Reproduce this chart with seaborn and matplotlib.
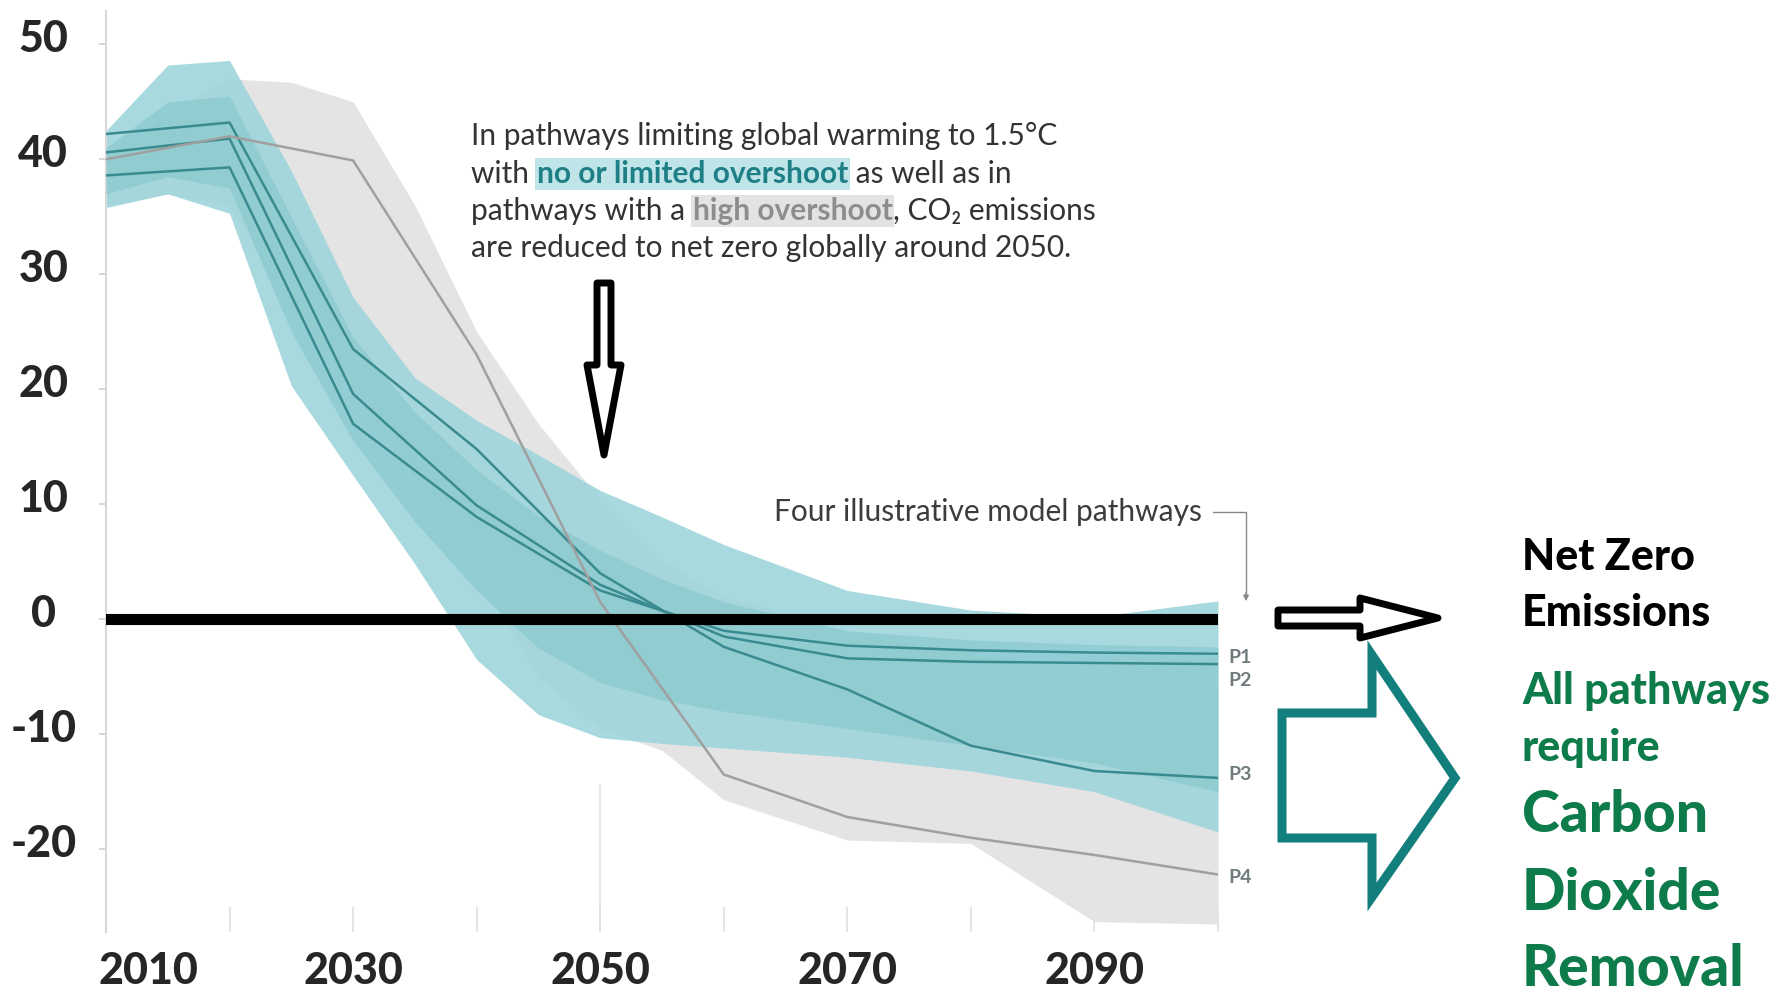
import numpy as np
import pandas as pd
import seaborn as sns
import matplotlib.pyplot as plt
from matplotlib.patches import Polygon
from matplotlib.transforms import ScaledTranslation

# ---- data (GtCO2/yr) ----
band_years = [2010, 2015, 2020, 2025, 2030, 2035, 2040, 2045, 2050, 2055, 2060, 2070, 2080, 2090, 2100]
teal_hi = [42.5, 48.2, 48.6, 39.0, 28.0, 21.0, 17.3, 14.3, 11.2, 8.9, 6.5, 2.5, 0.8, 0.2, 1.6]
teal_lo = [35.8, 37.0, 35.3, 20.3, 12.5, 4.8, -3.5, -8.3, -10.3, -10.8, -11.2, -12.0, -13.2, -15.0, -18.5]
teal_mid_hi = [41.0, 45.0, 45.5, 35.0, 24.5, 18.0, 13.0, 9.0, 6.0, 3.5, 1.5, -1.0, -1.8, -2.2, -2.4]
teal_mid_lo = [37.0, 38.5, 37.5, 25.0, 15.5, 8.5, 2.5, -2.5, -5.5, -7.0, -8.0, -9.5, -11.0, -12.5, -15.0]
grey_hi = [40.0, 44.0, 47.0, 46.7, 45.0, 36.0, 25.0, 17.0, 10.4, 5.0, 2.0, -1.0, -3.0, -5.0, -6.0]
grey_lo = [36.0, 37.0, 36.0, 27.0, 20.0, 12.0, 4.0, -5.0, -9.5, -11.4, -15.7, -19.2, -19.5, -26.3, -26.5]

path_years = [2010, 2020, 2030, 2040, 2050, 2060, 2070, 2080, 2090, 2100]
p1 = [38.6, 39.3, 17.0, 8.9, 2.5, -1.0, -2.3, -2.7, -2.9, -3.0]
p2 = [40.6, 41.8, 19.6, 9.9, 3.0, -1.5, -3.4, -3.7, -3.8, -3.9]
p3 = [42.2, 43.2, 23.5, 14.8, 4.0, -2.4, -6.1, -11.0, -13.2, -13.8]
p4 = [40.0, 42.0, 39.9, 23.0, 1.5, -13.5, -17.2, -19.0, -20.5, -22.2]
path_names = ["P1", "P2", "P3", "P4"]
path_label_y = [-3.3, -5.3, -13.5, -22.5]

ytick_vals = [50, 40, 30, 20, 10, 0, -10, -20]
xtick_years = [2010, 2020, 2030, 2040, 2050, 2060, 2070, 2080, 2090, 2100]
xtick_labels = ["2010", "", "2030", "", "2050", "", "2070", "", "2090", ""]
net_zero_year = 2050

# ---- figure ----
sns.set_theme(style="white")
plt.rcParams["font.family"] = ["Lato", "DejaVu Sans"]

W, H = 1781, 993
fig = plt.figure(figsize=(W / 100, H / 100), dpi=100)
ax = fig.add_axes([106 / W, 1 - 932 / H, (1218 - 106) / W, (932 - 11) / H])

TEAL = "#9fd5db"
TEAL_IN = "#79c0c7"
ax.fill_between(band_years, grey_lo, grey_hi, color="#e4e4e4", lw=0, zorder=1)
ax.fill_between(band_years, teal_lo, teal_hi, color=TEAL, alpha=0.9, lw=0, zorder=2)
ax.fill_between(band_years, teal_mid_lo, teal_mid_hi, color=TEAL_IN, alpha=0.45, lw=0, zorder=3)

df = pd.DataFrame({
    "year": path_years * 4,
    "value": p1 + p2 + p3 + p4,
    "pathway": sum([[n] * len(path_years) for n in path_names], []),
})
sns.lineplot(data=df, x="year", y="value", hue="pathway",
             palette={"P1": "#3a8b90", "P2": "#3a8b90", "P3": "#3a8b90", "P4": "#a0a0a0"},
             legend=False, linewidth=1.8, ax=ax, zorder=4)

ax.vlines(net_zero_year, -30, -14.3, color="#e2e2e2", lw=1.2, zorder=0)
ax.hlines(0, path_years[0], path_years[-1], color="black", lw=8, capstyle="round", zorder=6)

ax.set_xlim(path_years[0], path_years[-1])
ax.set_ylim(-27.2, 52.9)

for s in ["top", "right", "bottom"]:
    ax.spines[s].set_visible(False)
ax.spines["left"].set_color("#d8d8d8")
ax.spines["left"].set_linewidth(1.5)

TICK_FS = 31
ax.set_yticks(ytick_vals)
ax.set_yticklabels([str(v) for v in ytick_vals], fontsize=TICK_FS, fontweight="black")
ax.tick_params(axis="y", left=True, length=5, color="#d0d0d0", pad=38)
for lab in ax.get_yticklabels():
    lab.set_ha("center")
    lab.set_transform(lab.get_transform() + ScaledTranslation(-0.03, 0.09, fig.dpi_scale_trans))

ax.set_xticks(xtick_years)
ax.set_xticklabels(xtick_labels, fontsize=TICK_FS, fontweight="black")
ax.tick_params(axis="x", bottom=True, direction="in", length=18, width=1.2, color="#e0e0e0", pad=14)
ax.get_xticklabels()[0].set_ha("left")
ax.get_xticklabels()[0].set_transform(ax.get_xticklabels()[0].get_transform()
                                      + ScaledTranslation(-0.07, 0, fig.dpi_scale_trans))
ax.set_xlabel("")
ax.set_ylabel("")

for name, ly in zip(path_names, path_label_y):
    ax.text(path_years[-1] + 0.8, ly, name, fontsize=14, fontweight="bold",
            color="#6f7b7c", ha="left", va="center", clip_on=False, zorder=7)

# ---- overlay in pixel coordinates ----
ov = fig.add_axes([0, 0, 1, 1], zorder=10)
ov.set_xlim(0, W)
ov.set_ylim(H, 0)
ov.axis("off")

DARK = "#333333"
FS = 21.5


def rich_line(x, y, parts):
    prev = None
    for txt, color, weight, bg in parts:
        kw = dict(fontsize=FS, color=color, fontweight=weight, ha="left")
        if bg:
            kw["bbox"] = dict(boxstyle="square,pad=0.06", fc=bg, ec="none")
        if prev is None:
            prev = ov.text(x, y, txt, va="center", **kw)
        else:
            prev = ov.annotate(txt, xy=(1, 0), xycoords=prev, va="bottom", **kw)


rich_line(471, 136, [("In pathways limiting global warming to 1.5°C", DARK, "normal", None)])
rich_line(471, 174, [("with ", DARK, "normal", None),
                     ("no or limited overshoot", "#1f7f86", "bold", "#bfe5e9"),
                     (" as well as in", DARK, "normal", None)])
rich_line(471, 211, [("pathways with a ", DARK, "normal", None),
                     ("high overshoot", "#8d8d8d", "bold", "#e3e3e3"),
                     (", CO₂ emissions", DARK, "normal", None)])
rich_line(471, 248, [("are reduced to net zero globally around 2050.", DARK, "normal", None)])

ov.text(1202, 512, "Four illustrative model pathways", fontsize=FS, color="#3c3c3c",
        ha="right", va="center")
ov.plot([1213, 1246, 1246], [512, 512, 596], color="#888888", lw=1)
ov.annotate("", xy=(1246, 604), xytext=(1246, 590),
            arrowprops=dict(arrowstyle="-|>", color="#888888", lw=1, mutation_scale=8))

# hollow black arrows
down = [(597, 283), (611, 283), (611, 365), (621, 365), (604, 455), (587, 365), (597, 365)]
ov.add_patch(Polygon(down, closed=True, fc="white", ec="black", lw=5, joinstyle="round"))
right = [(1278, 610), (1360, 610), (1360, 598), (1438, 618), (1360, 638), (1360, 626), (1278, 626)]
ov.add_patch(Polygon(right, closed=True, fc="white", ec="black", lw=5, joinstyle="round"))

# teal block arrow
teal_arrow = [(1282, 713), (1372, 713), (1372, 655), (1455, 778), (1372, 897), (1372, 838), (1282, 838)]
ov.add_patch(Polygon(teal_arrow, closed=True, fc="white", ec="#137f7c", lw=6.5, joinstyle="miter"))

GREEN = "#0e7b4b"
ov.text(1522, 557, "Net Zero", fontsize=31, fontweight="black", color="black", va="center")
ov.text(1522, 613, "Emissions", fontsize=31, fontweight="black", color="black", va="center")
ov.text(1522, 691, "All pathways", fontsize=31, fontweight="black", color=GREEN, va="center")
ov.text(1522, 748, "require", fontsize=31, fontweight="black", color=GREEN, va="center")
ov.text(1522, 816, "Carbon", fontsize=41, fontweight="black", color=GREEN, va="center")
ov.text(1522, 893, "Dioxide", fontsize=41, fontweight="black", color=GREEN, va="center")
ov.text(1522, 969, "Removal", fontsize=41, fontweight="black", color=GREEN, va="center")

fig.savefig("out.png", dpi=100)
